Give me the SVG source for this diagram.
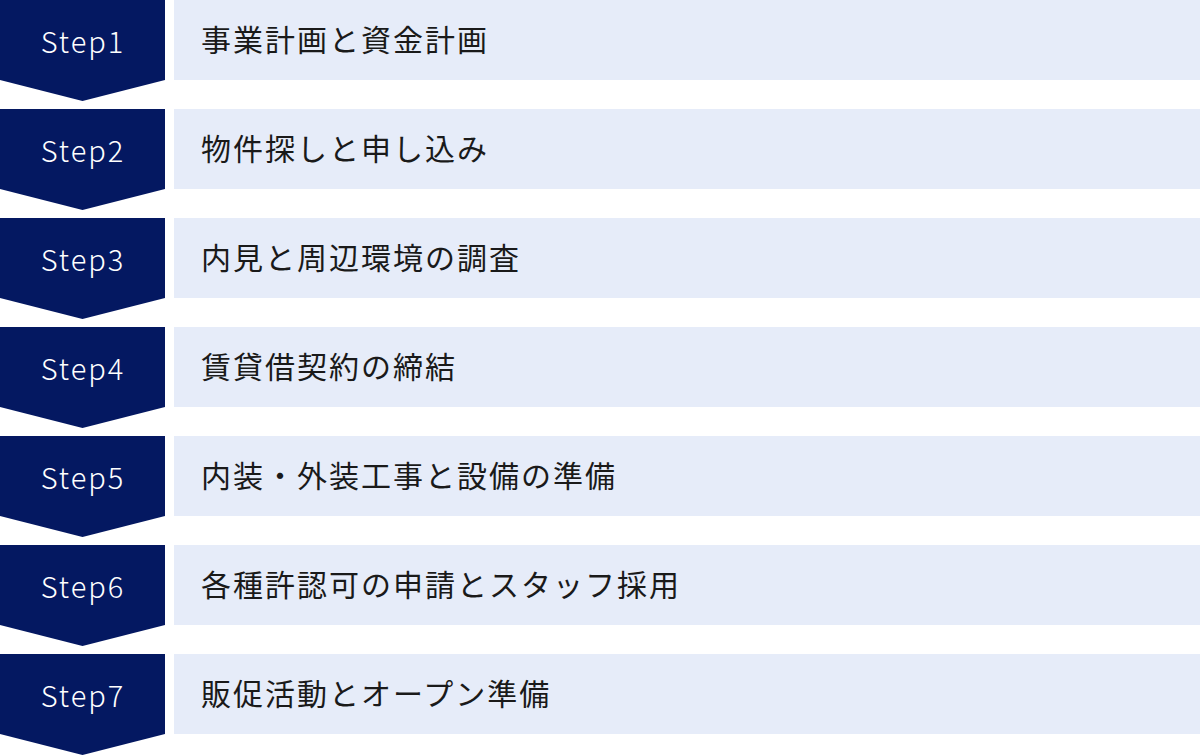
<svg xmlns="http://www.w3.org/2000/svg" width="1200" height="756" viewBox="0 0 1200 756">
<style>
.badge{fill:#041861}
.box{fill:#E6ECF9}
.step{font-family:"Noto Sans CJK JP","Noto Sans",sans-serif;font-size:29px;font-weight:300;fill:#fff;letter-spacing:2px}
.label{font-family:"Noto Sans CJK JP","Noto Sans",sans-serif;font-size:30px;fill:#1a1a1a;letter-spacing:2px}
</style>
<defs>
<path id="arrow" d="M0 0H165V80L82.5 101L0 80Z"/>
</defs>
<g id="step1" transform="translate(0,0)"><use href="#arrow" class="badge"/><rect class="box" x="174" y="0" width="1026" height="80"/><text class="step" x="83" y="53" text-anchor="middle">Step1</text><text class="label" x="201" y="51">事業計画と資金計画</text></g>
<g id="step2" transform="translate(0,109)"><use href="#arrow" class="badge"/><rect class="box" x="174" y="0" width="1026" height="80"/><text class="step" x="83" y="53" text-anchor="middle">Step2</text><text class="label" x="201" y="51">物件探しと申し込み</text></g>
<g id="step3" transform="translate(0,218)"><use href="#arrow" class="badge"/><rect class="box" x="174" y="0" width="1026" height="80"/><text class="step" x="83" y="53" text-anchor="middle">Step3</text><text class="label" x="201" y="51">内見と周辺環境の調査</text></g>
<g id="step4" transform="translate(0,327)"><use href="#arrow" class="badge"/><rect class="box" x="174" y="0" width="1026" height="80"/><text class="step" x="83" y="53" text-anchor="middle">Step4</text><text class="label" x="201" y="51">賃貸借契約の締結</text></g>
<g id="step5" transform="translate(0,436)"><use href="#arrow" class="badge"/><rect class="box" x="174" y="0" width="1026" height="80"/><text class="step" x="83" y="53" text-anchor="middle">Step5</text><text class="label" x="201" y="51">内装・外装工事と設備の準備</text></g>
<g id="step6" transform="translate(0,545)"><use href="#arrow" class="badge"/><rect class="box" x="174" y="0" width="1026" height="80"/><text class="step" x="83" y="53" text-anchor="middle">Step6</text><text class="label" x="201" y="51">各種許認可の申請とスタッフ採用</text></g>
<g id="step7" transform="translate(0,654)"><use href="#arrow" class="badge"/><rect class="box" x="174" y="0" width="1026" height="80"/><text class="step" x="83" y="53" text-anchor="middle">Step7</text><text class="label" x="201" y="51">販促活動とオープン準備</text></g>
<g id="connectors"/>
</svg>
